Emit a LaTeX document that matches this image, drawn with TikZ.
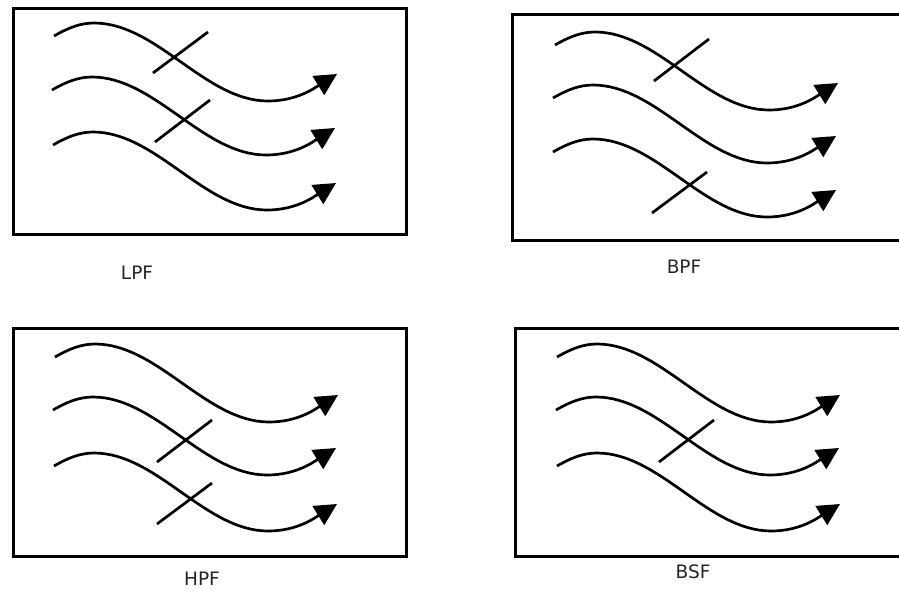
\documentclass[tikz,border=0pt]{standalone}
\usepackage{fontspec}
\setmainfont{DejaVu Sans}
\usetikzlibrary{arrows.meta}
\tikzset{
  panel/.style={draw=black, line width=3pt},
  wave/.style={draw=black, line width=2.7pt, -{Triangle[length=22pt,width=22pt]}},
  blocker/.style={draw=black, line width=2.7pt},
  caption/.style={font=\fontsize{18.5}{22}\selectfont, text=black!85, inner sep=0pt}
}
% one signal path: starts left of its crest, dips to a trough and ends in an arrow
\newcommand\flowwave[2]{%
  \begin{scope}[shift={(#1,#2)}]
    \draw[wave] (-40,13) .. controls (-26,5) and (-14,0) .. (0,0)
      .. controls (63,0) and (111,78) .. (174,78)
      .. controls (204,78) and (222,64) .. (243,51);
  \end{scope}}
\begin{document}
\begin{tikzpicture}[x=1pt,y=-1pt]
  \useasboundingbox (0,0) rectangle (899,590);
  \clip (0,0) rectangle (899,590);

  % low-pass panel
  \draw[panel] (13,8) rectangle (406,234);
  \flowwave{94}{23}
  \flowwave{92}{77}
  \flowwave{93}{132}
  \draw[blocker] (153,73) -- (208,32);
  \draw[blocker] (155,142) -- (210,100);
  \node[caption] (lpf) at (137,273) {LPF};

  % band-pass panel
  \draw[panel] (512.5,14) rectangle (910,240);
  \flowwave{595}{32}
  \flowwave{593}{85}
  \flowwave{593}{139}
  \draw[blocker] (654,81) -- (709,39);
  \draw[blocker] (652,213) -- (707,172);
  \node[caption] (bpf) at (684,267) {BPF};

  % high-pass panel
  \draw[panel] (13,328) rectangle (406.5,556);
  \flowwave{95}{344}
  \flowwave{93}{397}
  \flowwave{94}{453}
  \draw[blocker] (157,462) -- (212,420);
  \draw[blocker] (157,524) -- (212,483);
  \node[caption] (hpf) at (202,579) {HPF};

  % band-stop panel
  \draw[panel] (515.5,328) rectangle (910,556);
  \flowwave{597}{344}
  \flowwave{596}{397}
  \flowwave{597}{453}
  \draw[blocker] (659,462) -- (714,420);
  \node[caption] (bsf) at (693,572) {BSF};
\end{tikzpicture}
\end{document}
